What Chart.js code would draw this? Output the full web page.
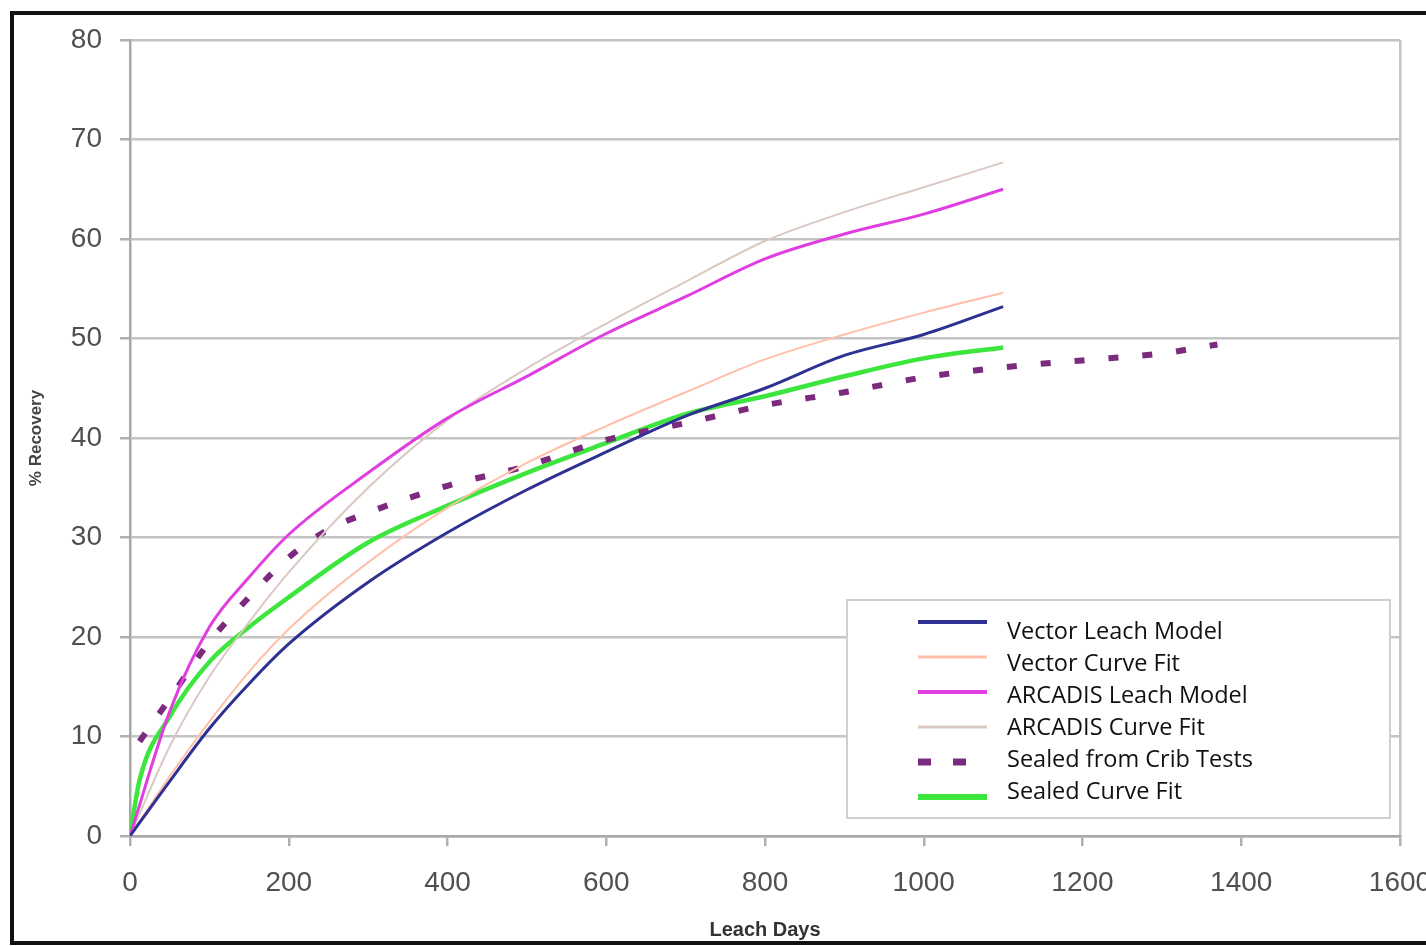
<!DOCTYPE html>
<html>
<head>
<meta charset="utf-8">
<script src="https://cdn.jsdelivr.net/npm/chart.js@4.4.0/dist/chart.umd.min.js"></script>
<style>
  html, body { margin: 0; padding: 0; background: #fff; }
  #wrap { position: relative; width: 1426px; height: 946px; overflow: hidden; }
  #frame { position: absolute; left: 10px; top: 11px; width: 1430px; height: 934px;
           border: 4px solid #111; box-sizing: border-box; }
  canvas { position: absolute; left: 0; top: 0; }
</style>
</head>
<body>
<div id="wrap">
  <canvas id="chart" width="1426" height="946"></canvas>
  <div id="frame"></div>
</div>
<script>
// leach days used by the model / fit curves
const leachDays = [0, 50, 100, 150, 200, 300, 400, 500, 600, 700, 800, 900, 1000, 1100];
const vectorLeach = [0, 5.5, 10.8, 15.3, 19.3, 25.5, 30.5, 34.8, 38.6, 42.2, 45, 48.3, 50.4, 53.2];
const vectorFit = [0, 6, 11.5, 16.5, 20.8, 27.5, 33, 37.5, 41.2, 44.6, 47.9, 50.4, 52.6, 54.6];
const arcadisLeach = [0, 12.5, 21, 26, 30.3, 36.5, 42, 46.2, 50.5, 54.2, 58, 60.5, 62.5, 65];
const arcadisFit = [0, 9, 16, 21.5, 26.5, 35, 41.8, 47, 51.5, 55.7, 59.8, 62.7, 65.2, 67.7];

const cribDays = [12, 50, 100, 150, 200, 250, 300, 400, 500, 600, 700, 800, 900, 1000, 1100, 1200, 1300, 1370];
const cribSealed = [9.5, 13.8, 19.5, 24, 28, 30.8, 32.5, 35.2, 37.2, 39.8, 41.5, 43.3, 44.6, 46.1, 47.1, 47.8, 48.5, 49.4];

const sealedFitDays = [0, 12, 50, 100, 150, 200, 300, 400, 500, 600, 700, 800, 900, 1000, 1100];
const sealedFit = [0, 5.6, 12, 17.5, 21, 24, 29.5, 33.2, 36.5, 39.5, 42.4, 44.2, 46.2, 48, 49.1];

const xTicks = [0, 200, 400, 600, 800, 1000, 1200, 1400, 1600];
const yTicks = [0, 10, 20, 30, 40, 50, 60, 70, 80];

function pts(xs, ys) {
  return xs.map((x, i) => ({ x, y: ys[i] }));
}

const series = [
  { label: 'Vector Leach Model', data: pts(leachDays, vectorLeach), borderColor: '#2e3192', borderWidth: 3, legendWidth: 4 },
  { label: 'Vector Curve Fit', data: pts(leachDays, vectorFit), borderColor: '#ffbfa8', borderWidth: 2, legendWidth: 3 },
  { label: 'ARCADIS Leach Model', data: pts(leachDays, arcadisLeach), borderColor: '#e03ee0', borderWidth: 3, legendWidth: 4 },
  { label: 'ARCADIS Curve Fit', data: pts(leachDays, arcadisFit), borderColor: '#d9c9c2', borderWidth: 2, legendWidth: 3 },
  { label: 'Sealed from Crib Tests', data: pts(cribDays, cribSealed), borderColor: '#7b2a7e', borderWidth: 6, borderDash: [10, 24], legendWidth: 7, legendDash: [13, 22] },
  { label: 'Sealed Curve Fit', data: pts(sealedFitDays, sealedFit), borderColor: '#3de63d', borderWidth: 4.5, legendWidth: 6 }
];

// legend drawn inside the plot, like the original
const boxLegend = {
  id: 'boxLegend',
  afterDatasetsDraw(chart) {
    const ctx = chart.ctx;
    ctx.save();
    ctx.fillStyle = '#fff';
    ctx.strokeStyle = '#cfcfcf';
    ctx.lineWidth = 2;
    ctx.fillRect(847, 600, 543, 218);
    ctx.strokeRect(847, 600, 543, 218);
    ctx.font = '23.5px "Open Sans"';
    ctx.textBaseline = 'middle';
    chart.data.datasets.forEach((ds, i) => {
      const ly = 622 + i * 35;
      ctx.beginPath();
      ctx.strokeStyle = ds.borderColor;
      ctx.lineWidth = ds.legendWidth;
      ctx.setLineDash(ds.legendDash || []);
      ctx.moveTo(918, ly);
      ctx.lineTo(987, ly);
      ctx.stroke();
      ctx.setLineDash([]);
      ctx.fillStyle = '#111';
      ctx.fillText(ds.label, 1007, 632 + i * 32);
    });
    ctx.restore();
  }
};

new Chart(document.getElementById('chart').getContext('2d'), {
  type: 'line',
  data: {
    datasets: series.map(s => Object.assign({
      fill: false,
      pointRadius: 0,
      tension: 0.4,
      cubicInterpolationMode: 'monotone',
      borderCapStyle: 'butt'
    }, s))
  },
  options: {
    responsive: false,
    animation: false,
    devicePixelRatio: 1,
    layout: { padding: { top: 40, right: 26, left: 0, bottom: 0 } },
    plugins: { legend: { display: false }, tooltip: { enabled: false } },
    scales: {
      x: {
        type: 'linear',
        min: 0,
        max: 1600,
        afterFit: s => { s.height = 110; s.paddingLeft = 0; s.paddingRight = 0; },
        afterBuildTicks: s => { s.ticks = xTicks.map(v => ({ value: v })); },
        border: { color: '#a8a8a8', width: 2.5 },
        grid: {
          color: c => (c.tick && c.tick.value === 1600 ? '#c4c4c4' : 'rgba(0,0,0,0)'),
          lineWidth: 2.5,
          tickColor: '#b0b0b0',
          tickLength: 10
        },
        ticks: { color: '#505050', font: { family: '"Liberation Sans", Arial', size: 28 }, padding: 20, maxRotation: 0, callback: v => String(v) },
        title: { display: true, text: 'Leach Days', color: '#333', font: { family: '"Liberation Sans", Arial', size: 20, weight: 'bold' }, padding: { top: 0, bottom: 4 } }
      },
      y: {
        min: 0,
        max: 80,
        afterFit: s => { s.width = 130; },
        afterBuildTicks: s => { s.ticks = yTicks.map(v => ({ value: v })); },
        border: { color: '#a8a8a8', width: 2.5 },
        grid: { color: '#c4c4c4', lineWidth: 2.5, tickColor: '#b0b0b0', tickLength: 10 },
        ticks: { color: '#505050', font: { family: '"Liberation Sans", Arial', size: 28 }, padding: 18 },
        title: { display: true, text: '% Recovery', color: '#444', font: { family: '"Liberation Sans", Arial', size: 17, weight: 'bold' }, padding: { top: 26, bottom: 0 } }
      }
    }
  },
  plugins: [boxLegend]
});
</script>
</body>
</html>
